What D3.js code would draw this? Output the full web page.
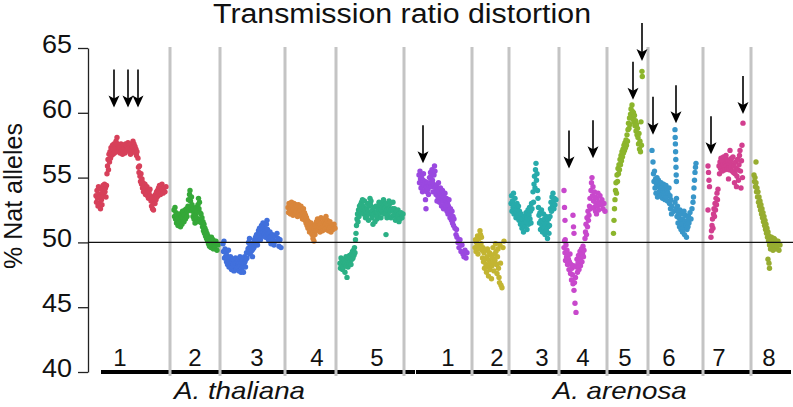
<!DOCTYPE html>
<html><head><meta charset="utf-8">
<script src="https://cdn.jsdelivr.net/npm/d3@7"></script>
<style>html,body{margin:0;padding:0;background:#fff;} svg{display:block;font-family:"Liberation Sans",Arial,Helvetica,sans-serif;}</style>
</head><body><svg id="c" width="793" height="407"></svg>
<script>
const title = "Transmission ratio distortion";
const yLabel = "% Nat alleles";
const yTicks = [40,45,50,55,60,65];
const refLine = 50;
const speciesNames = ["A. thaliana","A. arenosa"];
const speciesLabelPos = [151.5, 531.7];
const speciesSpan = [[13,327],[328,703]];
const chromNames = ["1","2","3","4","5","1","2","3","4","5","6","7","8"];
const chromLengths = [82,50,65,51,68, 68,37,50,48,41,55,48,42];
const chromLabelPos = [32,25,37,32,41, 44,25,33,24,18,21,16,18];
const chromColors = ["#d7405a","#35a838","#4170dc","#d9863b","#2bb085",
  "#9a48e0","#c3b532","#27abab","#c848cc","#8cb52c","#3896c9","#d23f8f","#97ac30"];

const thal1 = [[8,53.6],[8.5,53.1],[9,54.0],[9.5,53.4],[10,52.8],[10.5,54.3],[11,53.7],[11.5,53.0],[12,53.5],[12.5,52.6],[13,54.1],[13.5,53.3],[14,52.9],[14.5,53.8],[15,54.4],[15.5,53.6],[16,54.0],[16.5,54.5],[17,53.9],[17.5,54.2],[18,53.5],[18.5,54.4],[19,55.3],[19.5,55.9],[20,56.4],[20.5,55.6],[21,56.8],[21.5,56.2],[22,57.0],[22.5,56.5],[23,57.3],[23.5,56.7],[24,57.0],[24.5,57.5],[25,56.8],[25.5,57.2],[26,57.6],[26.5,56.9],[27,57.4],[27.5,57.0],[28,57.8],[28.5,57.3],[29,58.1],[29.5,57.6],[30,57.1],[30.5,57.5],[31,57.0],[31.5,57.4],[32,56.9],[32.5,57.3],[33,57.6],[33.5,57.1],[34,57.4],[34.5,56.8],[35,57.2],[35.5,57.5],[36,57.0],[36.5,57.3],[37,56.9],[37.5,57.6],[38,57.2],[38.5,57.5],[39,57.1],[39.5,57.4],[40,57.7],[40.5,57.2],[41,57.5],[41.5,57.0],[42,57.3],[42.5,56.8],[43,57.2],[43.5,57.6],[44,57.1],[44.5,57.4],[45,57.8],[45.5,57.3],[46,57.6],[46.5,57.1],[47,57.4],[47.5,56.9],[48,57.2],[48.5,56.7],[49,57.0],[50,56.5],[50.5,55.8],[51,55.4],[51.5,55.9],[52,55.1],[52.5,54.7],[53,55.3],[53.5,54.5],[54,54.9],[54.5,54.2],[55,54.6],[55.5,53.9],[56,54.4],[56.5,54.0],[57,54.5],[57.5,53.7],[58,54.2],[58.5,53.8],[59,54.3],[59.5,53.6],[60,54.0],[60.5,53.4],[61,53.9],[61.5,53.5],[62,54.1],[62.5,53.6],[63,53.2],[63.5,52.8],[64,53.4],[64.5,52.6],[65,53.1],[65.5,52.5],[66,53.0],[66.5,53.5],[67,53.0],[67.5,53.7],[68,53.3],[68.5,53.9],[69,53.5],[69.5,54.0],[70,53.6],[70.5,54.2],[71,53.8],[71.5,54.4],[72,54.0],[72.5,53.7],[73,54.3],[73.5,53.9],[74,54.5],[74.5,54.1],[75,53.8],[76,54.2],[77,53.9],[78,54.3]];
const thal2 = [[4,52.5],[4.5,52.0],[5,52.7],[5.5,51.8],[6,52.3],[6.5,51.5],[7,52.1],[7.5,51.7],[8,51.3],[8.5,51.9],[9,51.5],[9.5,52.2],[10,51.8],[10.5,51.2],[11,51.6],[11.5,52.0],[12,51.4],[12.5,52.4],[13,51.9],[13.5,52.3],[14,51.6],[14.5,52.1],[15,52.5],[15.5,51.8],[16,52.2],[16.5,52.6],[17,52.0],[17.5,52.4],[18,52.8],[18.5,53.3],[19,52.5],[19.5,53.7],[20,54.0],[20.5,53.2],[21,52.7],[21.5,53.5],[22,52.9],[22.5,52.4],[23,52.0],[23.5,52.6],[24,51.8],[24.5,52.3],[25,51.5],[25.5,52.1],[26,52.7],[26.5,51.9],[27,52.4],[27.5,51.6],[28,52.9],[28.5,53.4],[29,52.6],[29.5,53.1],[30,52.3],[30.5,51.8],[31,52.2],[31.5,51.5],[32,51.9],[32.5,51.2],[33,51.6],[33.5,50.9],[34,51.4],[34.5,50.7],[35,51.1],[35.5,50.5],[36,50.9],[36.5,50.3],[37,50.7],[37.5,50.1],[38,50.5],[38.5,49.9],[39,50.3],[39.5,49.7],[40,50.1],[41,49.6],[41.5,50.4],[42,49.8],[43,50.2],[43.5,49.5],[44,50.0],[45,49.7],[46,50.1],[47,49.4],[48,49.8]];
const thal3 = [[3,49.9],[3.5,49.3],[4,50.1],[4.5,48.8],[5,49.5],[5.5,48.9],[6,49.2],[6.5,48.5],[7,49.0],[7.5,48.3],[8,48.8],[8.5,49.4],[9,48.1],[9.5,48.6],[10,48.2],[10.5,48.9],[11,48.4],[11.5,47.9],[12,48.5],[12.5,48.1],[13,48.7],[13.5,48.3],[14,47.8],[14.5,48.6],[15,48.2],[15.5,48.8],[16,48.4],[16.5,47.9],[17,48.5],[17.5,48.1],[18,48.7],[18.5,48.3],[19,47.8],[19.5,48.4],[20,48.9],[20.5,48.2],[21,47.7],[21.5,48.5],[22,48.0],[22.5,48.6],[23,48.2],[23.5,47.7],[24,48.4],[24.5,48.9],[25,48.5],[25.5,48.1],[26,48.7],[26.5,49.2],[27,48.8],[28,49.5],[28.5,50.0],[29,49.6],[29.5,50.3],[30,49.1],[30.5,49.7],[31,49.3],[31.5,49.8],[32,49.4],[32.5,48.9],[33,49.5],[33.5,50.0],[34,49.6],[34.5,50.2],[35,49.8],[35.5,50.4],[36,50.0],[36.5,50.6],[37,50.2],[37.5,49.8],[38,50.4],[38.5,50.9],[39,50.5],[39.5,51.1],[40,50.7],[40.5,50.2],[41,50.8],[41.5,51.3],[42,50.5],[42.5,51.0],[43,51.5],[43.5,50.8],[44,51.2],[44.5,50.6],[45,51.0],[45.5,50.4],[46,50.9],[46.5,51.4],[47,51.7],[47.5,51.0],[48,50.6],[48.5,50.2],[49,50.7],[49.5,50.3],[50,50.8],[50.5,50.4],[51,49.9],[51.5,50.5],[52,50.1],[52.5,50.6],[53,50.2],[54,49.8],[55,50.5],[56,50.1],[57,50.7],[58,50.3],[59,49.7],[60,50.2],[61,49.6]];
const thal4 = [[3,52.7],[3.5,52.3],[4,53.0],[4.5,52.5],[5,52.9],[5.5,52.2],[6,52.6],[6.5,53.1],[7,52.4],[7.5,52.8],[8,52.1],[8.5,52.6],[9,53.0],[9.5,52.3],[10,52.7],[10.5,52.2],[11,52.9],[11.5,52.4],[12,52.8],[12.5,52.0],[13,52.5],[13.5,52.9],[14,52.3],[14.5,52.7],[15,52.1],[15.5,52.5],[16,52.8],[16.5,52.0],[17,52.4],[17.5,51.8],[18,52.2],[18.5,52.6],[19,51.9],[19.5,52.3],[20,51.7],[20.5,52.1],[21,51.5],[21.5,51.9],[22,51.3],[22.5,51.7],[23,51.1],[23.5,51.6],[24,51.2],[24.5,50.8],[25,51.4],[25.5,50.9],[26,51.5],[26.5,51.0],[27,50.6],[27.5,51.2],[28,50.3],[28.5,50.8],[29,50.1],[29.5,51.1],[30,50.6],[30.5,51.4],[31,50.9],[31.5,51.6],[32,51.2],[32.5,51.8],[33,51.3],[33.5,51.0],[34,51.6],[34.5,51.2],[35,50.8],[35.5,51.4],[36,51.9],[36.5,51.1],[37,51.5],[37.5,50.9],[38,51.3],[38.5,51.8],[39,51.2],[39.5,51.6],[40,51.0],[40.5,51.4],[41,52.0],[41.5,51.5],[42,51.1],[42.5,51.7],[43,51.3],[43.5,50.9],[44,51.5],[44.5,51.1],[45,51.6],[45.5,51.2],[46,50.8],[47,51.3],[48,51.0],[49,51.4],[50,51.1]];
const thal5 = [[4,48.4],[4.5,48.0],[5,48.8],[5.5,48.2],[6,48.6],[6.5,47.9],[7,48.5],[7.5,48.1],[8,48.7],[8.5,48.3],[9,47.7],[9.5,48.4],[10,48.9],[10.5,48.2],[11,47.3],[11.5,48.6],[12,48.1],[12.5,48.8],[13,48.4],[13.5,49.0],[14,48.5],[14.5,48.9],[15,48.3],[15.5,49.1],[16,48.7],[16.5,49.3],[17,48.8],[17.5,49.4],[18,49.0],[18.5,49.6],[19,49.2],[19.5,50.2],[20,50.7],[20.5,51.3],[21,51.8],[21.5,52.2],[22,51.6],[22.5,52.5],[23,52.0],[23.5,52.8],[24,52.3],[24.5,52.9],[25,52.4],[25.5,53.1],[26,52.6],[26.5,53.3],[27,52.8],[27.5,52.2],[28,52.7],[28.5,53.2],[29,52.5],[29.5,51.9],[30,52.4],[30.5,52.0],[31,52.6],[31.5,53.0],[32,52.3],[32.5,51.7],[33,52.2],[33.5,52.8],[34,53.4],[34.5,52.9],[35,53.2],[35.5,52.4],[36,51.9],[36.5,52.5],[37,51.4],[37.5,52.1],[38,52.7],[38.5,52.2],[39,51.6],[39.5,52.3],[40,52.8],[40.5,52.3],[41,51.8],[41.5,52.4],[42,52.0],[42.5,52.6],[43,53.1],[43.5,52.5],[44,52.9],[44.5,52.3],[45,51.9],[45.5,52.5],[46,53.0],[46.5,52.4],[47,52.8],[47.5,53.3],[48,52.7],[48.5,52.2],[49,52.6],[49.5,53.0],[50,50.6],[50.5,52.4],[51,51.9],[51.5,52.5],[52,52.1],[52.5,52.7],[53,53.2],[53.5,52.6],[54,53.0],[54.5,52.4],[55,51.9],[55.5,52.5],[56,52.0],[56.5,52.6],[57,53.1],[57.5,52.5],[58,52.1],[58.5,52.6],[59,52.2],[59.5,51.7],[60,52.3],[60.5,51.8],[61,52.4],[61.5,52.0],[62,52.5],[62.5,52.1],[63,51.6],[63.5,52.2],[64,51.8],[65,52.3],[66,51.9],[67,52.2]];
const aren1 = [[15,55.2],[15.5,54.6],[16,55.5],[16.5,54.9],[17,54.2],[17.5,55.0],[18,54.5],[18.5,53.9],[19,54.8],[19.5,55.3],[20,54.4],[20.5,54.0],[21,54.7],[21.5,53.3],[22,52.6],[22.5,54.3],[23,53.9],[23.5,54.6],[24,54.1],[24.5,53.7],[25,54.4],[25.5,55.0],[26,54.6],[26.5,55.4],[27,55.1],[27.5,54.3],[28,55.6],[28.5,54.8],[29,53.9],[29.5,54.5],[30,55.2],[30.5,55.9],[31,55.5],[31.5,54.2],[32,53.7],[32.5,54.4],[33,53.2],[33.5,54.0],[34,53.5],[34.5,54.6],[35,53.9],[35.5,53.1],[36,53.7],[36.5,54.2],[37,53.4],[37.5,52.8],[38,53.6],[38.5,54.0],[39,53.2],[39.5,52.6],[40,53.5],[40.5,52.9],[41,53.8],[41.5,53.3],[42,52.7],[42.5,53.4],[43,52.4],[43.5,53.0],[44,52.2],[44.5,52.8],[45,53.3],[45.5,52.5],[46,51.9],[46.5,52.6],[47,52.1],[47.5,51.7],[48,52.4],[48.5,51.5],[49,52.0],[49.5,51.3],[50,51.8],[51,51.1],[52,50.6],[52.5,51.0],[53,50.4],[54,50.0],[55,49.6],[56,50.2],[57,49.3],[58,49.8],[59,49.1],[60,48.9],[61,49.4],[62,48.8],[63,49.2]];
const aren2 = [[3,49.6],[3.5,50.2],[4,49.3],[4.5,50.0],[5,49.7],[5.5,50.5],[6,49.1],[6.5,49.8],[7,50.3],[7.5,49.5],[8,50.9],[8.5,50.6],[9,49.9],[9.5,50.4],[10,49.4],[10.5,48.8],[11,49.6],[11.5,48.5],[12,49.2],[12.5,48.0],[13,48.7],[13.5,49.4],[14,48.3],[14.5,47.7],[15,48.9],[15.5,49.5],[16,48.1],[16.5,47.4],[17,48.6],[17.5,49.2],[18,47.9],[18.5,48.4],[19,49.0],[19.5,47.2],[20,48.2],[20.5,48.8],[21,49.6],[21.5,48.5],[22,47.8],[22.5,49.1],[23,48.6],[23.5,49.9],[24,49.3],[24.5,48.3],[25,47.6],[25.5,48.9],[26,49.5],[26.5,48.0],[27,47.3],[27.5,46.9],[28,49.8],[28.5,48.4],[29,46.7],[30,46.5],[31,49.6],[32,50.1]];
const aren3 = [[2,53.0],[2.5,53.6],[3,52.4],[3.5,53.2],[4,52.7],[4.5,53.8],[5,52.2],[5.5,52.9],[6,53.4],[6.5,52.5],[7,51.9],[7.5,52.3],[8,53.0],[8.5,52.6],[9,52.1],[9.5,52.8],[10,51.7],[10.5,52.4],[11,51.9],[11.5,51.4],[12,52.2],[12.5,51.6],[13,51.1],[13.5,51.8],[14,51.3],[14.5,50.8],[15,51.5],[15.5,52.0],[16,51.2],[16.5,51.7],[17,52.3],[17.5,51.6],[18,51.0],[18.5,51.9],[19,52.5],[19.5,51.4],[20,52.1],[20.5,52.7],[21,51.8],[21.5,52.4],[22,51.5],[22.5,53.0],[23,52.6],[24,53.9],[24.5,53.1],[25,54.5],[25.5,55.1],[26,54.2],[26.5,55.6],[27,56.1],[27.5,54.8],[28,55.3],[28.5,54.0],[29,53.4],[29.5,52.7],[30,52.1],[30.5,51.5],[31,52.3],[31.5,51.0],[32,51.7],[32.5,52.5],[33,51.3],[33.5,50.8],[34,51.6],[34.5,52.2],[35,51.1],[35.5,51.8],[36,50.6],[36.5,51.4],[37,52.0],[37.5,50.9],[38,51.5],[38.5,50.3],[39,51.2],[39.5,51.8],[40,50.7],[40.5,51.3],[41,52.0],[41.5,52.6],[42,53.1],[42.5,52.4],[43,53.5],[43.5,52.8],[44,53.8],[44.5,53.2],[45,52.6],[45.5,53.4],[46,52.9],[47,53.3]];
const aren4 = [[5,54.0],[5.5,52.7],[6,51.7],[6.2,50.2],[14,52.1],[14.5,51.2],[15,50.7],
  [5,49.6],[5.5,50.1],[6,49.2],[6.5,48.6],[7,49.8],[7.5,48.9],[8,49.4],[8.5,48.3],[9,49.0],[9.5,48.7],[10,47.9],[10.5,48.5],[11,49.1],[11.5,47.6],[12,48.3],[12.5,47.1],[13,48.0],[13.5,47.5],[14,46.8],[14.5,48.2],[15,46.3],[15.5,46.9],[16,45.3],[16.5,47.3],[17,44.6],[17.5,48.1],[18,48.7],[18.5,47.7],[19,48.4],[19.5,49.0],[20,47.9],[20.5,48.6],[21,49.3],[21.5,48.2],[22,48.8],[22.5,49.5],[23,48.5],[23.5,49.1],[24,49.7],[24.5,48.9],[25,49.4],
  [26,50.3],[26.5,50.8],[27,51.4],[27.5,50.6],[28,51.9],[28.5,51.2],[29,52.4],[29.5,51.7],[30,52.1],[30.5,52.8],[31,53.4],[31.5,52.6],[32,54.0],[32.5,54.6],[33,55.0],[33.5,53.6],[34,54.3],[34.5,53.2],[35,52.7],[35.5,53.9],[36,53.5],[36.5,52.4],[37,53.0],[37.5,52.2],[38,53.4],[38.5,52.8],[39,53.8],[39.5,52.5],[40,53.1],[41,53.6],[42,52.9],[43,53.3],[44,52.6],[45,53.0],[46,52.4]];
const aren5 = [[6.5,50.7],[7,51.7],[7.5,52.6],[8,53.3],[8.5,54.0],[9,54.6],[9.5,53.8],[10,55.2],[10.5,54.7],[11,55.7],[11.5,55.3],[12,56.0],[12.5,55.6],[13,56.4],[13.5,56.0],[14,56.7],[14.5,56.3],[15,57.0],[15.5,56.6],[16,57.2],[16.5,56.9],[17,57.5],[17.5,57.1],[18,57.7],[18.5,57.3],[19,57.9],[19.5,57.5],[20,58.3],[20.5,57.8],[21,58.7],[21.5,59.2],[22,58.8],[22.5,59.6],[23,59.1],[23.5,59.9],[24,60.3],[24.5,59.7],[25,60.6],[25.5,60.1],[26,59.5],[26.5,60.0],[27,59.3],[27.5,59.8],[28,59.0],[28.5,59.4],[29,58.6],[29.5,59.1],[30,58.3],[30.5,58.8],[31,58.1],[31.5,57.6],[32,58.4],[32.5,57.2],[33,57.8],[33.5,57.0],[34,59.3],[34.5,57.5],[35,63.2],[35.3,62.8]];
const aren6 = [[4,57.1],[5,56.2],[5.5,55.3],[6,54.7],[6.5,55.5],[7,54.2],[7.5,54.9],[8,53.8],[8.5,54.5],[9,55.0],[9.5,53.5],[10,54.3],[10.5,54.8],[11,53.9],[11.5,54.4],[12,53.6],[12.5,54.1],[13,54.6],[13.5,53.7],[14,54.2],[14.5,53.4],[15,54.0],[15.5,54.5],[16,53.6],[16.5,54.1],[17,53.3],[17.5,53.9],[18,54.4],[18.5,53.5],[19,54.0],[19.5,53.2],[20,53.8],[21,54.2],[21.5,53.0],[22,53.6],[22.5,52.6],[23,53.3],[23.5,52.2],[24,52.8],
  [27,58.7],[27.2,58.1],[27.4,57.6],[27.6,57.0],[27.8,56.4],[28,55.8],[28.2,55.2],[28.4,54.7],
  [26,52.4],[27,53.1],[28,52.6],[28.5,53.4],[29,52.0],[29.5,52.8],[30,51.5],[30.5,52.3],[31,51.9],[31.5,51.2],[32,52.5],[32.5,51.7],[33,51.0],[33.5,52.2],[34,51.4],[34.5,50.8],[35,51.8],[35.5,51.1],[36,52.4],[36.5,50.6],[37,51.6],[37.5,52.1],[38,51.3],[38.5,50.4],[39,51.0],[39.5,51.7],[40,51.2],[40.5,52.0],[41,51.5],[42,52.3],[43,51.8],[44,52.6],[45,53.1],[45.5,53.5],[46,54.2],[46.5,54.8],[47,55.4],[47.5,55.8],[48,56.1]];
const aren7 = [[5,55.9],[5.5,55.4],[6,54.8],[6.5,54.3],[5,52.5],[8,50.4],[8.5,50.9],[9,51.3],[9.5,51.8],[10,51.1],[10.5,52.2],[11,52.6],[11.5,52.0],[12,53.0],[12.5,52.5],[13,53.4],[13.5,52.9],[14,53.8],[14.5,53.3],[15,54.1],[16,55.9],[16.5,55.3],[17,56.2],[17.5,55.7],[18,56.5],[18.5,55.9],[19,56.3],[19.5,55.5],[20,56.0],[20.5,56.6],[21,55.8],[21.5,56.3],[22,55.6],[22.5,56.1],[23,56.7],[23.5,55.9],[24,56.4],[24.5,55.7],[25,56.2],[25.5,54.9],[26,55.6],[26.5,56.1],[27,57.1],[27.5,56.3],[28,55.8],[28.5,56.5],[29,55.5],[29.5,56.0],[30,56.6],[30.5,55.4],[31,55.9],[31.5,54.6],[32,55.3],[32.5,56.2],[33,55.7],[33.5,54.3],[34,55.1],[34.5,56.4],[35,55.6],[35.5,54.8],[36,56.0],[36.5,56.7],[37,57.1],[37.5,55.5],[38,54.2],[38.5,56.3],[39,57.5],[39.5,55.0],[40,59.2]];
const aren8 = [[5,56.2],[3,55.2],[3.5,54.7],[4,55.0],[4.5,54.3],[5,54.6],[5.5,53.9],[6,54.2],[6.5,53.5],[7,53.9],[7.5,53.1],[8,53.5],[8.5,52.8],[9,53.2],[9.5,52.5],[10,52.9],[10.5,52.2],[11,52.6],[11.5,51.9],[12,52.3],[12.5,51.6],[13,52.0],[13.5,51.3],[14,51.7],[14.5,51.0],[15,51.4],[15.5,50.7],[16,51.1],[16.5,50.4],[17,50.8],[17.5,50.1],[18,50.5],[18.5,49.8],[19,50.2],[19.5,49.5],[20,49.9],[20.5,50.4],[21,49.6],[21.5,50.1],[22,49.4],[22.5,49.9],[23,50.3],[23.5,49.7],[24,50.2],[24.5,49.5],[25,50.0],[26,49.7],[27,50.1],[28,49.4],[29,49.8],[17,48.7],[18,48.4],[18.5,48.0]];
const chromData = [thal1,thal2,thal3,thal4,thal5,aren1,aren2,aren3,aren4,aren5,aren6,aren7,aren8];

const arrowChrom = [0,0,0,5,8,8,9,9,10,10,11,11];
const arrowPos = [26,40,50,19,10,34,26,35,5,28,8,40];
const arrowTip = [60.4,60.4,60.4,56.1,55.7,56.5,61.0,64.0,58.3,59.2,56.8,59.9];

// ---- drawing ----
const svg = d3.select("#c");
const offsets = [];
chromLengths.reduce((acc, l) => { offsets.push(acc); return acc + l; }, 0);
const total = d3.sum(chromLengths);
const x = d3.scaleLinear().domain([0, total]).range([88, 793]);
const y = d3.scaleLinear().domain([40, 65]).range([372, 48]);

// title
svg.append("text").attr("x", 402).attr("y", 23).attr("text-anchor", "middle")
  .attr("font-size", 27).attr("textLength", 378).attr("lengthAdjust", "spacingAndGlyphs")
  .attr("fill", "#111").text(title);

// y label
svg.append("text").attr("transform", "translate(22,196) rotate(-90)")
  .attr("text-anchor", "middle").attr("font-size", 25).attr("fill", "#111").text(yLabel);

// species bars
svg.selectAll("rect.sp").data(speciesSpan).join("rect").attr("class", "sp")
  .attr("x", d => x(d[0])).attr("width", d => x(d[1]) - x(d[0]))
  .attr("y", 370).attr("height", 4).attr("fill", "#000");

// separators
svg.selectAll("line.sep").data(offsets.slice(1)).join("line").attr("class", "sep")
  .attr("x1", d => x(d)).attr("x2", d => x(d)).attr("y1", 47).attr("y2", 376)
  .attr("stroke", "#c4c4c4").attr("stroke-width", 3);

// y axis
const yAxis = d3.axisLeft(y).tickValues(yTicks).tickSize(10).tickSizeOuter(0).tickPadding(6);
const ga = svg.append("g").attr("transform", "translate(88,0)").call(yAxis);
ga.select(".domain").attr("stroke", "#222").attr("stroke-width", 1.3);
ga.selectAll(".tick line").attr("stroke", "#222").attr("stroke-width", 1.3);
ga.selectAll(".tick text").attr("font-size", 25).attr("font-family", "'Liberation Sans',Arial,sans-serif")
  .attr("fill", "#111").attr("dy", "0.18em").attr("textLength", 30).attr("lengthAdjust", "spacingAndGlyphs");

// points
chromData.forEach((pts, i) => {
  svg.append("g").selectAll("circle").data(pts).join("circle")
    .attr("cx", d => x(offsets[i] + d[0])).attr("cy", d => y(d[1]))
    .attr("r", 2.7).attr("fill", chromColors[i]);
});

// reference line at 50
svg.append("line").attr("x1", x(0)).attr("x2", x(total)).attr("y1", y(refLine)).attr("y2", y(refLine))
  .attr("stroke", "#111").attr("stroke-width", 1.2);

// chromosome labels
svg.selectAll("text.chr").data(chromNames).join("text").attr("class", "chr")
  .attr("x", (d, i) => x(offsets[i] + chromLabelPos[i])).attr("y", 366)
  .attr("text-anchor", "middle").attr("font-size", 24).attr("fill", "#111").text(d => d);

// species labels
svg.selectAll("text.spn").data(speciesNames).join("text").attr("class", "spn")
  .attr("x", (d, i) => x(speciesLabelPos[i])).attr("y", 399)
  .attr("text-anchor", "middle").attr("font-size", 24).attr("font-style", "italic")
  .attr("textLength", (d, i) => i === 0 ? 131 : 134).attr("lengthAdjust", "spacingAndGlyphs")
  .attr("fill", "#111").text(d => d);

// arrows
const arrowLen = 38;
arrowChrom.forEach((c, i) => {
  const ax = x(offsets[c] + arrowPos[i]);
  const ty = y(arrowTip[i]);
  const g = svg.append("g").attr("transform", `translate(${ax},${ty})`);
  g.append("line").attr("x1", 0).attr("x2", 0).attr("y1", -arrowLen).attr("y2", -8)
    .attr("stroke", "#000").attr("stroke-width", 1.6);
  g.append("path").attr("d", "M0,0L-5.5,-12L0,-9L5.5,-12Z").attr("fill", "#000");
});
</script></body></html>
